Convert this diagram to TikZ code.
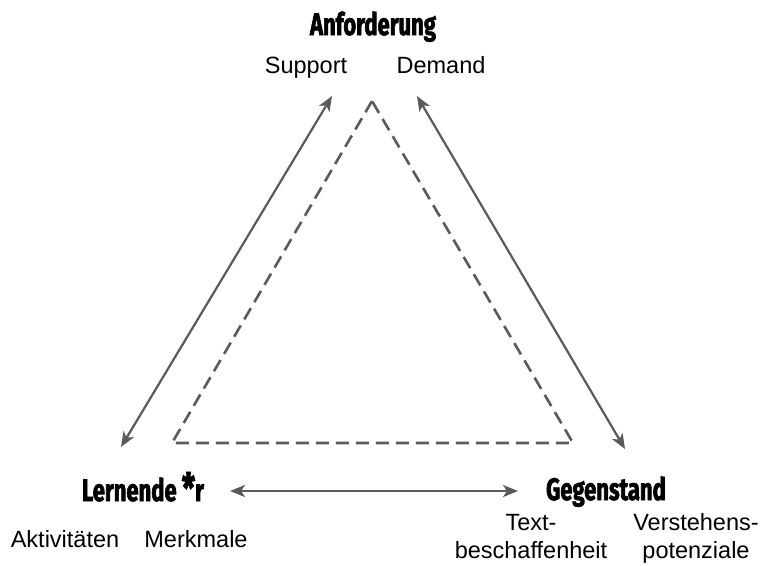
\documentclass[tikz,border=0pt]{standalone}
\usepackage{fontspec}
\setmainfont{Liberation Sans}
\newfontfamily\headfont{Fira Sans}[FakeStretch=0.71, FakeBold=2]
\usetikzlibrary{arrows.meta}
\definecolor{linegray}{HTML}{5A5A5A}
\tikzset{
  head/.style={anchor=base, inner sep=0pt, font=\headfont\bfseries\fontsize{31}{32}\selectfont},
  lbl/.style={anchor=base, inner sep=0pt, font=\fontsize{23.5}{28}\selectfont, align=center},
  conn/.style={draw=linegray, line width=2.2pt, {Stealth[length=15pt,width=12pt,inset=4pt]}-{Stealth[length=15pt,width=12pt,inset=4pt]}},
  tri/.style={draw=linegray, line width=2.6pt, dash pattern=on 13pt off 7pt, line join=miter}
}
\begin{document}
\begin{tikzpicture}[x=1pt,y=-1pt]
\useasboundingbox (0,0) rectangle (760,565);
% headings
\node[head] (anf) at (373,35) {Anforderung};
\node[head] (ler) at (143,501) {Lernende\,\raisebox{-2pt}{\scalebox{1.35}{*}}r};
\node[head] (geg) at (606,500) {Gegenstand};
% labels
\node[lbl] (sup) at (306,73) {Support};
\node[lbl] (dem) at (441,73) {Demand};
\node[lbl] (akt) at (65,547) {Aktivitäten};
\node[lbl] (mer) at (196,547) {Merkmale};
\node[lbl] (txt) at (531,558) {Text-\\beschaffenheit};
\node[lbl] (ver) at (696,558) {Verstehens-\\potenziale};
% connector endpoints
\coordinate (la) at (332,96);
\coordinate (lb) at (121,447);
\coordinate (ra) at (417,96);
\coordinate (rb) at (625,449);
\coordinate (ha) at (230,491);
\coordinate (hb) at (518,491);
\draw[conn] (la) -- (lb);
\draw[conn] (ra) -- (rb);
\draw[conn] (ha) -- (hb);
% dashed triangle
\coordinate (t1) at (372,101);
\coordinate (t2) at (172,443);
\coordinate (t3) at (573,443);
\draw[tri] (t1) -- (t2) -- (t3) -- cycle;
\end{tikzpicture}
\end{document}
